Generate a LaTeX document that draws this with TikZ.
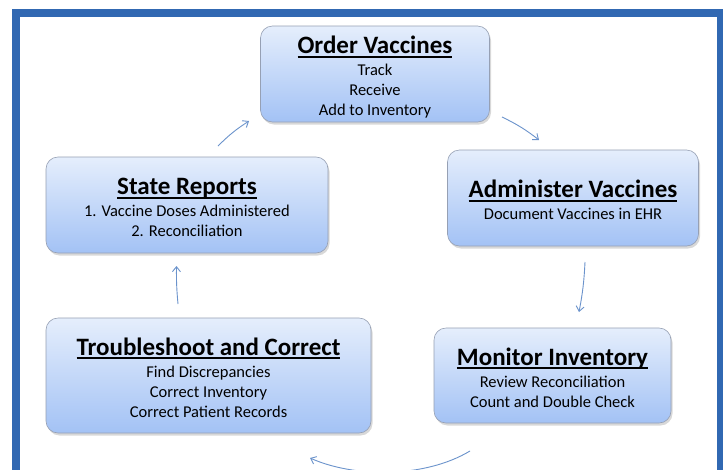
\documentclass[tikz,border=0pt]{standalone}
\usepackage{fontspec}
\setmainfont{Carlito}
\usetikzlibrary{shadows,arrows.meta}
\definecolor{frameblue}{RGB}{49,104,178}
\definecolor{boxtop}{RGB}{229,238,252}
\definecolor{boxbot}{RGB}{163,194,245}
\definecolor{boxedge}{RGB}{150,160,180}
\definecolor{arrowblue}{RGB}{107,147,204}
\newcommand{\boxtitle}[1]{{\fontsize{25}{28}\selectfont\bfseries\setbox0=\hbox{#1}\rule{0pt}{26pt}\rlap{\rule[-4pt]{\wd0}{1.9pt}}\box0}}
\newcommand{\lastline}{\rule[-5pt]{0pt}{5pt}}
\newcommand{\boxfont}{\fontsize{16.5}{20}\selectfont\lineskiplimit=-20pt\relax}
\begin{document}
\begin{tikzpicture}[x=1pt,y=-1pt,
  box/.style={rounded corners=12pt, draw=boxedge, line width=0.6pt,
    top color=boxtop, bottom color=boxbot,
    drop shadow={shadow xshift=1.5pt,shadow yshift=-2.5pt,opacity=0.3},
    align=center, font=\boxfont, inner sep=0pt},
  flow/.style={draw=arrowblue, line width=0.9pt, -{Straight Barb[length=5pt,width=8pt]}}]
\useasboundingbox (0,0) rectangle (723,469);
\clip (0,0) rectangle (723,469);
\fill[white] (0,0) rectangle (723,469);
\draw[frameblue, line width=8pt] (16,13) rectangle (721,540);

\node[box, minimum width=229pt, minimum height=96pt] (ord) at (375,74)
  {\boxtitle{Order Vaccines}\\[2pt]Track\\Receive\\Add to Inventory\lastline};
\node[box, minimum width=251pt, minimum height=96pt] (adm) at (573,198)
  {\boxtitle{Administer Vaccines}\\[2pt]Document Vaccines in EHR\lastline};
\node[box, minimum width=282pt, minimum height=96pt] (st) at (187,205)
  {\boxtitle{State Reports}\\[2pt]1. Vaccine Doses Administered\\2. Reconciliation\lastline};
\node[box, minimum width=325pt, minimum height=115pt] (tr) at (208.5,375.5)
  {\boxtitle{Troubleshoot and Correct}\\[2pt]Find Discrepancies\\Correct Inventory\\Correct Patient Records\lastline};
\node[box, minimum width=237pt, minimum height=95pt] (mon) at (552.5,375.5)
  {\boxtitle{Monitor Inventory}\\[2pt]Review Reconciliation\\Count and Double Check\lastline};

\coordinate (a1s) at (218,146);
\coordinate (a1e) at (249,121);
\coordinate (a2s) at (502,117);
\coordinate (a2e) at (539,140);
\coordinate (a3s) at (585,262);
\coordinate (a3e) at (579,312);
\coordinate (a4s) at (470,451);
\coordinate (a4e) at (310,458);
\coordinate (a5s) at (178,304);
\coordinate (a5e) at (176.5,266);

\draw[flow] (a1s) to[bend left=6] (a1e);
\draw[flow] (a2s) to[bend left=6] (a2e);
\draw[flow] (a3s) to[bend left=4] (a3e);
\draw[flow] (a4s) .. controls (425,478) and (355,478) .. (a4e);
\draw[flow] (a5s) to[bend left=3] (a5e);
\end{tikzpicture}
\end{document}
